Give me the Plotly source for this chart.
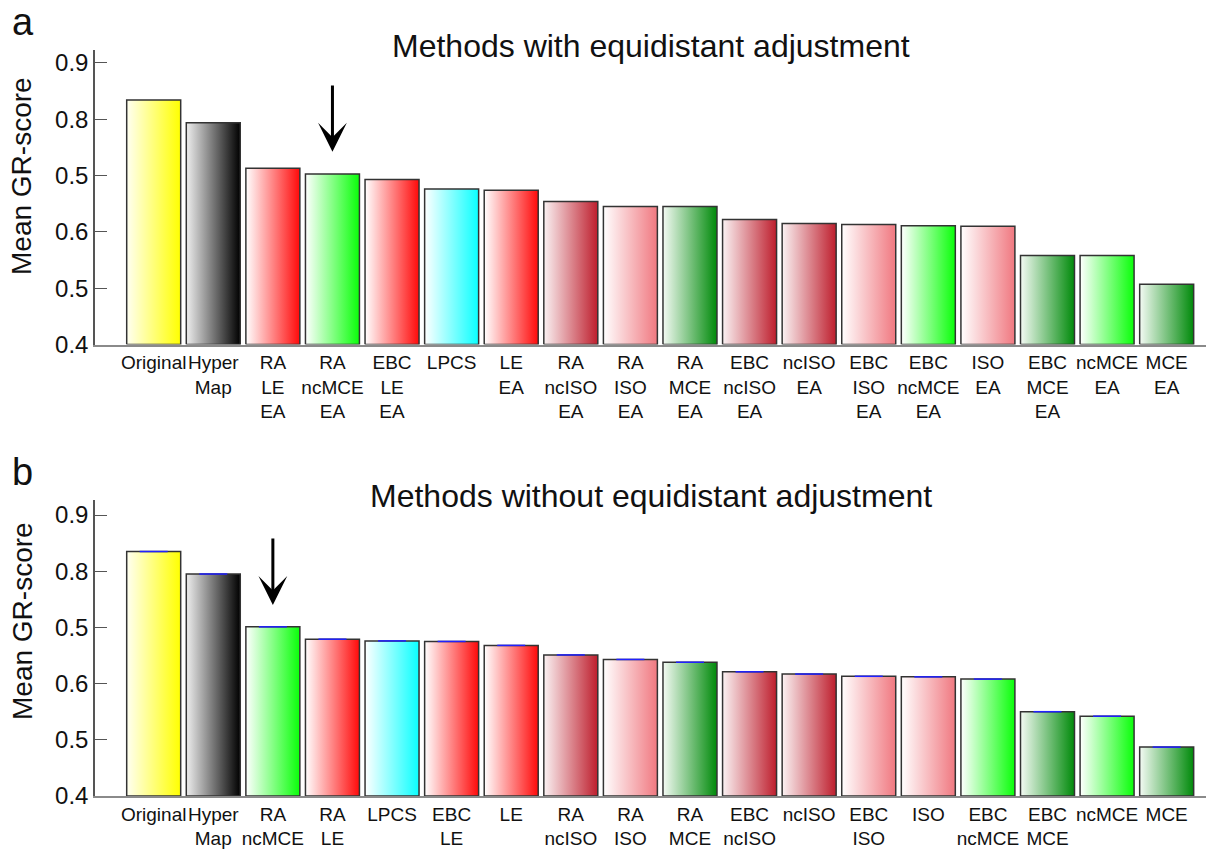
import plotly.graph_objects as go

# ---------------- data ----------------
labels_a = ["Original", "Hyper<br>Map", "RA<br>LE<br>EA", "RA<br>ncMCE<br>EA", "EBC<br>LE<br>EA",
            "LPCS", "LE<br>EA", "RA<br>ncISO<br>EA", "RA<br>ISO<br>EA", "RA<br>MCE<br>EA",
            "EBC<br>ncISO<br>EA", "ncISO<br>EA", "EBC<br>ISO<br>EA", "EBC<br>ncMCE<br>EA",
            "ISO<br>EA", "EBC<br>MCE<br>EA", "ncMCE<br>EA", "MCE<br>EA"]
values_a = [0.834, 0.794, 0.713, 0.703, 0.693, 0.676, 0.674, 0.654, 0.645, 0.645,
            0.622, 0.615, 0.613, 0.611, 0.610, 0.558, 0.558, 0.507]
groups_a = ["yellow", "black", "red", "lime", "red", "cyan", "red", "darkred", "pink", "darkgreen",
            "darkred", "darkred", "pink", "lime", "pink", "darkgreen", "lime", "darkgreen"]

labels_b = ["Original", "Hyper<br>Map", "RA<br>ncMCE", "RA<br>LE", "LPCS", "EBC<br>LE", "LE",
            "RA<br>ncISO", "RA<br>ISO", "RA<br>MCE", "EBC<br>ncISO", "ncISO", "EBC<br>ISO", "ISO",
            "EBC<br>ncMCE", "EBC<br>MCE", "ncMCE", "MCE"]
values_b = [0.835, 0.795, 0.701, 0.679, 0.676, 0.675, 0.668, 0.651, 0.643, 0.638,
            0.621, 0.617, 0.613, 0.612, 0.608, 0.550, 0.542, 0.487]
groups_b = ["yellow", "black", "lime", "red", "cyan", "red", "red", "darkred", "pink", "darkgreen",
            "darkred", "darkred", "pink", "pink", "lime", "darkgreen", "lime", "darkgreen"]

ytick_vals = [0.4, 0.5, 0.6, 0.7, 0.8, 0.9]
ytick_text = ["0.4", "0.5", "0.6", "0.5", "0.8", "0.9"]

title_a = "Methods with equidistant adjustment"
title_b = "Methods without equidistant adjustment"
ytitle = "Mean GR-score"

# ---------------- style ----------------
palette = {
    "yellow": ("#FFFFF2", "#FFFF00"),
    "black": ("#EEEEEE", "#000000"),
    "red": ("#FFFFFF", "#FF0A0A"),
    "lime": ("#FFFFFF", "#0AFF0A"),
    "cyan": ("#FFFFFF", "#0AFFFF"),
    "darkred": ("#FAF2F3", "#BE1E2D"),
    "pink": ("#FFFFFF", "#F07880"),
    "darkgreen": ("#F4FAF4", "#008A0A"),
}
FONT = "Liberation Sans, Arial, sans-serif"
W, H = 1206, 850
BAR_W = 0.906
BASE = 0.4

fig = go.Figure()


def add_bars(values, groups, xa, ya):
    for i, (v, g) in enumerate(zip(values, groups)):
        c0, c1 = palette[g]
        x0, x1 = i - BAR_W / 2, i + BAR_W / 2
        fig.add_trace(go.Scatter(
            x=[x0, x1, x1, x0, x0], y=[BASE, BASE, v, v, BASE],
            mode="lines", fill="toself",
            fillgradient=dict(type="horizontal", colorscale=[[0, c0], [1, c1]]),
            line=dict(color="#333333", width=1.5),
            hoverinfo="skip", showlegend=False, xaxis=xa, yaxis=ya))


add_bars(values_a, groups_a, "x", "y")
add_bars(values_b, groups_b, "x2", "y2")

# small blue marks on top of bars in panel b
fig.add_trace(go.Scatter(
    x=list(range(len(values_b))), y=values_b, mode="markers",
    marker=dict(symbol="line-ew", size=20, line=dict(width=1.5, color="#2020FF")),
    hoverinfo="skip", showlegend=False, xaxis="x2", yaxis="y2"))


def px_y(p):
    return 1 - p / H


def px_x(p):
    return p / W


xr = [-0.985, 17.66]
xaxis_common = dict(range=xr, domain=[px_x(95), 1], showline=True, linecolor="#8a8a8a",
                    linewidth=1.5, ticks="", showgrid=False, zeroline=False, automargin=False,
                    tickmode="array", tickvals=list(range(18)), tickangle=0,
                    tickfont=dict(family=FONT, size=19, color="#111111"))
yaxis_common = dict(showline=True, linecolor="#555555", linewidth=1.5, ticks="inside",
                    ticklen=12, tickwidth=1.3, tickcolor="#555555", showgrid=False,
                    zeroline=False, automargin=False, tickmode="array", tickvals=ytick_vals,
                    ticktext=ytick_text, tickfont=dict(family=FONT, size=24, color="#111111"))

fig.update_layout(
    width=W, height=H, margin=dict(l=0, r=0, t=0, b=0, autoexpand=False),
    paper_bgcolor="white", plot_bgcolor="white",
    font=dict(family=FONT, color="#111111"),
    xaxis=dict(**xaxis_common, ticktext=labels_a, anchor="y"),
    yaxis=dict(**yaxis_common, range=[0.4, 0.923], domain=[px_y(344.5), px_y(50)], anchor="x"),
    xaxis2=dict(**xaxis_common, ticktext=labels_b, anchor="y2"),
    yaxis2=dict(**yaxis_common, range=[0.4, 0.9267], domain=[px_y(796), px_y(500)], anchor="x2"),
)

ann = []
ann.append(dict(text=title_a, x=px_x(651), y=px_y(46), xref="paper", yref="paper",
                showarrow=False, font=dict(size=32, family=FONT), xanchor="center", yanchor="middle"))
ann.append(dict(text=title_b, x=px_x(651), y=px_y(496), xref="paper", yref="paper",
                showarrow=False, font=dict(size=32, family=FONT), xanchor="center", yanchor="middle"))
ann.append(dict(text="a", x=px_x(10), y=px_y(22), xref="paper", yref="paper",
                showarrow=False, font=dict(size=38, family=FONT), xanchor="left", yanchor="middle"))
ann.append(dict(text="b", x=px_x(10), y=px_y(472), xref="paper", yref="paper",
                showarrow=False, font=dict(size=38, family=FONT), xanchor="left", yanchor="middle"))
ann.append(dict(text=ytitle, x=px_x(22), y=px_y(176), xref="paper", yref="paper", textangle=-90,
                showarrow=False, font=dict(size=28, family=FONT), xanchor="center", yanchor="middle"))
ann.append(dict(text=ytitle, x=px_x(22), y=px_y(621), xref="paper", yref="paper", textangle=-90,
                showarrow=False, font=dict(size=28, family=FONT), xanchor="center", yanchor="middle"))
# arrows
ann.append(dict(text="", x=3, y=0.7425, ax=3, ay=0.8627, xref="x", yref="y", axref="x", ayref="y",
                showarrow=True, arrowhead=3, arrowwidth=3, arrowsize=1.6, arrowcolor="black"))
ann.append(dict(text="", x=2, y=0.740, ax=2, ay=0.861, xref="x2", yref="y2", axref="x2", ayref="y2",
                showarrow=True, arrowhead=3, arrowwidth=3, arrowsize=1.6, arrowcolor="black"))
fig.update_layout(annotations=ann)

fig.write_html("out.html")
